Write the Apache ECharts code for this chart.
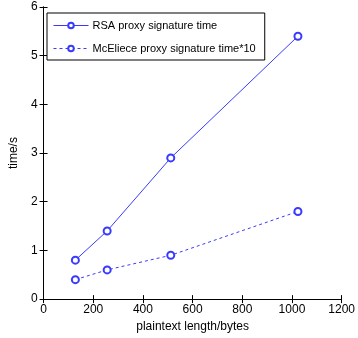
<!DOCTYPE html>
<html>
<head>
<meta charset="utf-8">
<script src="https://cdn.jsdelivr.net/npm/echarts@6/dist/echarts.min.js"></script>
<style>
  html, body { margin: 0; padding: 0; background: #fff; }
  #chart { width: 358px; height: 338px; }
</style>
</head>
<body>
<div id="chart"></div>
<script>
// plaintext length (bytes)
const lengths = [128, 256, 512, 1024]
const rsaTime = [0.8, 1.4, 2.9, 5.4]
const mceTime = [0.4, 0.6, 0.9, 1.8]  // x10

const seriesNames = ['RSA proxy signature time', 'McEliece proxy signature time*10']

const font = 'Liberation Sans, Arial, sans-serif'
const blue = '#3a3aff'

function pairs(xs, ys) {
  return xs.map((x, i) => [x, ys[i]])
}

const boxAxis = (extra) => Object.assign({
  axisLine: { show: true, lineStyle: { color: '#000', width: 1 } },
  axisTick: { show: true, inside: true, length: 4, lineStyle: { color: '#000' } },
  splitLine: { show: false }
}, extra)

const chart = echarts.init(document.getElementById('chart'))
chart.setOption({
  animation: false,
  grid: { left: 42, right: 11, top: 7, bottom: 35 },
  legend: {
    data: seriesNames,
    orient: 'vertical',
    left: 47,
    top: 13,
    itemWidth: 35,
    itemHeight: 7,
    itemGap: 12,
    padding: [7, 9, 6, 6],
    borderColor: '#000',
    borderWidth: 1,
    backgroundColor: '#fff',
    itemStyle: { borderWidth: 1 },
    lineStyle: { width: 1 },
    textStyle: { fontFamily: font, fontSize: 11, color: '#000', padding: [0, 0, 0, -1] }
  },
  xAxis: [
    boxAxis({
      type: 'value', min: 0, max: 1200, interval: 200,
      name: 'plaintext length/bytes', nameLocation: 'middle', nameGap: 19,
      nameTextStyle: { fontFamily: font, fontSize: 12, color: '#000' },
      axisLabel: { fontFamily: font, fontSize: 12, color: '#000', margin: 5, formatter: v => String(v) }
    }),
    boxAxis({
      type: 'value', min: 0, max: 1200, interval: 200, position: 'top',
      axisLabel: { show: false }
    })
  ],
  yAxis: [
    boxAxis({
      type: 'value', min: 0, max: 6, interval: 1,
      name: 'time/s', nameLocation: 'middle', nameGap: 22,
      nameTextStyle: { fontFamily: font, fontSize: 12, color: '#000' },
      axisLabel: { fontFamily: font, fontSize: 12, color: '#000', margin: 6 }
    }),
    boxAxis({
      type: 'value', min: 0, max: 6, interval: 1, position: 'right',
      axisLabel: { show: false }
    })
  ],
  series: [
    {
      name: seriesNames[0],
      type: 'line',
      data: pairs(lengths, rsaTime),
      symbol: 'emptyCircle',
      symbolSize: 7,
      lineStyle: { color: blue, width: 1 },
      itemStyle: { color: blue, borderWidth: 1 }
    },
    {
      name: seriesNames[1],
      type: 'line',
      data: pairs(lengths, mceTime),
      symbol: 'emptyCircle',
      symbolSize: 7,
      lineStyle: { color: blue, width: 1, type: [3, 3] },
      itemStyle: { color: blue, borderWidth: 1 }
    }
  ]
})
</script>
</body>
</html>
